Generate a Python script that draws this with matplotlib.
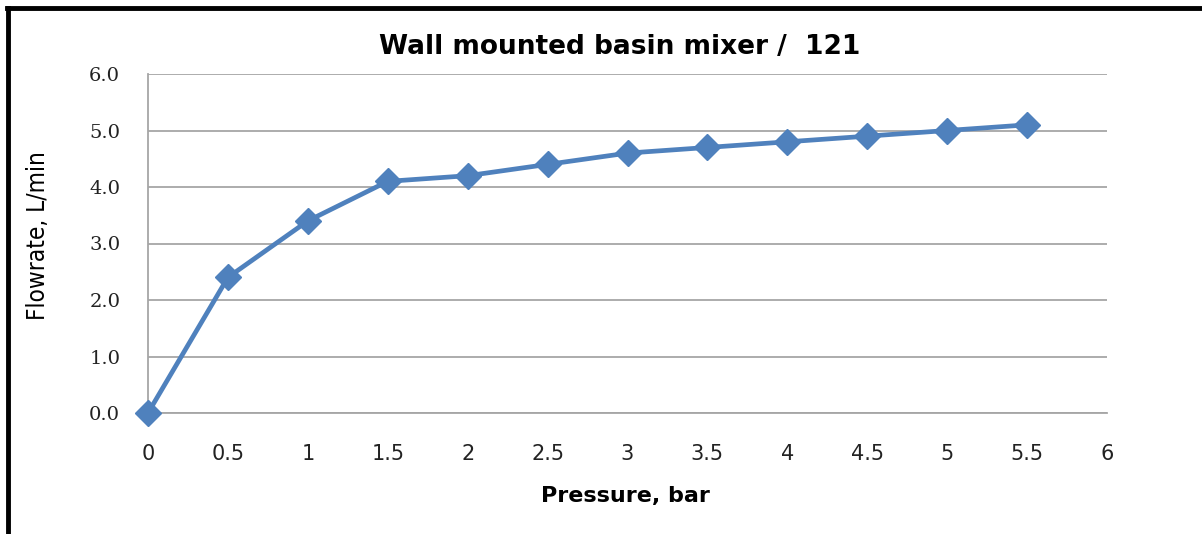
import matplotlib.pyplot as plt
from matplotlib.lines import Line2D

# Data
pressure = [0, 0.5, 1, 1.5, 2, 2.5, 3, 3.5, 4, 4.5, 5, 5.5]
flowrate = [0.0, 2.4, 3.4, 4.1, 4.2, 4.4, 4.6, 4.7, 4.8, 4.9, 5.0, 5.1]
x_ticks = [0, 0.5, 1, 1.5, 2, 2.5, 3, 3.5, 4, 4.5, 5, 5.5, 6]
x_tick_labels = ["0", "0.5", "1", "1.5", "2", "2.5", "3", "3.5", "4", "4.5", "5", "5.5", "6"]
y_ticks = [0, 1, 2, 3, 4, 5, 6]
y_tick_labels = ["0.0", "1.0", "2.0", "3.0", "4.0", "5.0", "6.0"]

W, H = 1202, 534
fig = plt.figure(figsize=(W / 100, H / 100), dpi=100)
ax = fig.add_axes([148 / W, 1 - 413 / H, (1107 - 148) / W, (413 - 74) / H])

blue = "#4F81BD"
ax.plot(pressure, flowrate, color=blue, linewidth=3.4, marker="D",
        markersize=13, markeredgecolor=blue, markerfacecolor=blue, clip_on=False, zorder=3)

ax.set_xlim(0, 6)
ax.set_ylim(0, 6)
ax.set_xticks(x_ticks)
ax.set_xticklabels(x_tick_labels)
ax.set_yticks(y_ticks)
ax.set_yticklabels(y_tick_labels)
ax.tick_params(axis="both", length=0, colors="#222222")
ax.tick_params(axis="x", pad=22, labelsize=15)
ax.tick_params(axis="y", pad=20, labelsize=14)
for lbl in ax.get_yticklabels():
    lbl.set_fontfamily("DejaVu Serif")

ax.grid(axis="y", color="#a6a6a6", linewidth=1.3)
ax.set_axisbelow(True)
for side in ["top", "right"]:
    ax.spines[side].set_visible(False)
ax.spines["left"].set_color("#a6a6a6")
ax.spines["bottom"].set_color("#a6a6a6")
ax.spines["left"].set_linewidth(1.3)
ax.spines["bottom"].set_linewidth(1.3)

fig.text(620 / W, 1 - 47 / H, "Wall mounted basin mixer /  121", ha="center", va="center",
         fontsize=19, fontweight="bold", family="DejaVu Sans")
fig.text(625 / W, 1 - 496 / H, "Pressure, bar", ha="center", va="center",
         fontsize=16, fontweight="bold", family="DejaVu Sans")
fig.text(38 / W, 1 - 236 / H, "Flowrate, L/min", ha="center", va="center", rotation=90,
         fontsize=17.5, family="DejaVu Sans", fontstretch="condensed")

# Black frame on left and top
fig.add_artist(Line2D([8 / W, 8 / W], [0, 1 - 8 / H], color="black", linewidth=3.5))
fig.add_artist(Line2D([6.5 / W, 1], [1 - 8 / H, 1 - 8 / H], color="black", linewidth=3.5))

fig.savefig("out.png", dpi=100)
